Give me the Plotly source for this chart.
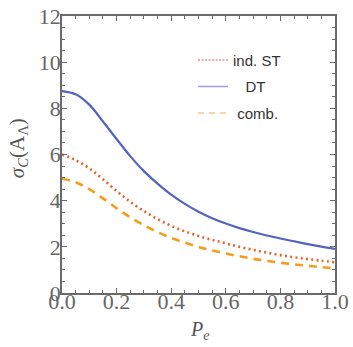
import plotly.graph_objects as go

pe = [0.0, 0.05, 0.1, 0.15, 0.2, 0.25, 0.3, 0.35, 0.4, 0.45, 0.5,
      0.55, 0.6, 0.65, 0.7, 0.75, 0.8, 0.85, 0.9, 0.95, 1.0]
ind_st = [6.0, 5.76, 5.4, 4.93, 4.42, 3.95, 3.55, 3.2, 2.91, 2.67, 2.47,
          2.3, 2.15, 2.0, 1.87, 1.75, 1.64, 1.55, 1.47, 1.4, 1.33]
dt = [8.75, 8.61, 8.16, 7.43, 6.67, 5.93, 5.28, 4.74, 4.26, 3.86, 3.52,
      3.24, 3.01, 2.81, 2.64, 2.49, 2.36, 2.24, 2.12, 2.01, 1.91]
comb = [4.95, 4.8, 4.5, 4.1, 3.67, 3.28, 2.94, 2.64, 2.39, 2.18, 2.0,
        1.84, 1.71, 1.59, 1.48, 1.39, 1.31, 1.24, 1.18, 1.12, 1.07]
names = ["ind. ST", "\u00a0\u00a0\u00a0DT", "\u00a0comb."]
x_title = "<i>P</i><sub><i>e</i></sub>"
y_title = "<i>σ</i><sub><i>C</i></sub>(A<sub>Λ</sub>)"

c_st, c_dt, c_comb = "#e8642a", "#5463bf", "#f29e1c"
c_st_l, c_dt_l, c_comb_l = "#f08a8a", "#9aa0ee", "#f8c88a"

fig = go.Figure()
fig.add_trace(go.Scatter(x=pe, y=ind_st, mode="lines", line_shape="spline",
                         line=dict(color=c_st, width=2.6, dash="2px,3.3px"), showlegend=False))
fig.add_trace(go.Scatter(x=pe, y=dt, mode="lines", line_shape="spline",
                         line=dict(color=c_dt, width=2.2), showlegend=False))
fig.add_trace(go.Scatter(x=pe, y=comb, mode="lines", line_shape="spline",
                         line=dict(color=c_comb, width=2.6, dash="8px,6px"), showlegend=False))
# legend entries (lighter samples, as in the reference)
for nm, col, ds, g in [(names[0], c_st_l, "2px,1.5px", "a"), (names[1], c_dt_l, "solid", "b"),
                       (names[2], c_comb_l, "6px,5px", "c")]:
    fig.add_trace(go.Scatter(x=[None], y=[None], mode="lines", name=nm, legendgroup=g,
                             line=dict(color=col, width=1.6, dash=ds)))

axcol = "#6a6a6a"
tickfont = dict(family="Liberation Serif", size=22, color="#666666")
common = dict(showline=True, linecolor=axcol, linewidth=1.6, mirror="allticks",
              ticks="inside", tickcolor=axcol, tickwidth=1, showgrid=False,
              zeroline=False, tickfont=tickfont, automargin=False,
              ticklabeloverflow="allow")
fig.update_xaxes(range=[0, 1], dtick=0.2, tickformat=".1f", ticklen=5, ticklabelstandoff=-12,
                 minor=dict(dtick=0.05, ticks="inside", ticklen=3, tickcolor=axcol),
                 **common)
fig.update_yaxes(range=[0, 12], dtick=2, ticklen=5, ticklabelstandoff=-5,
                 minor=dict(dtick=0.5, ticks="inside", ticklen=3, tickcolor=axcol),
                 **common)
fig.add_annotation(text=x_title, xref="paper", yref="paper", x=0.505, y=-0.134,
                   showarrow=False, xanchor="center", yanchor="middle",
                   font=dict(family="Liberation Serif", size=20, color="#555555"))
fig.add_annotation(text=y_title, xref="paper", yref="paper", x=-0.161, y=0.523,
                   showarrow=False, xanchor="center", yanchor="middle", textangle=-90,
                   font=dict(family="Liberation Serif", size=21, color="#555555"))
fig.update_layout(
    width=353, height=347, margin=dict(l=62, r=18, t=16, b=54),
    plot_bgcolor="white", paper_bgcolor="white",
    legend=dict(x=0.48, y=0.9, xanchor="left", yanchor="top", tracegroupgap=4,
                bgcolor="rgba(0,0,0,0)", itemwidth=30,
                font=dict(family="Liberation Sans", size=15, color="#333333")),
)
fig.write_html("out.html", config={"displayModeBar": False},
               post_script="document.body.style.margin='0';")
